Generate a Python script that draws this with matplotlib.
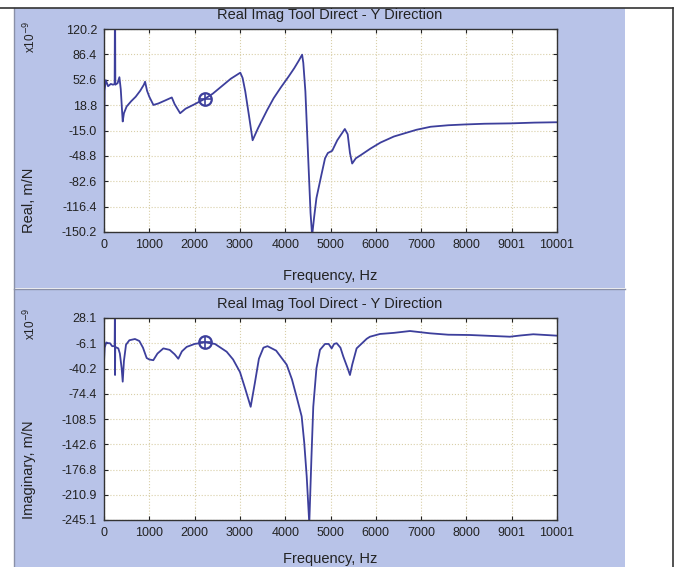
import numpy as np
import matplotlib
matplotlib.use('Agg')
import matplotlib.pyplot as plt
from matplotlib.patches import Rectangle
from matplotlib.lines import Line2D

plt.rcParams['font.family'] = ['Liberation Sans', 'DejaVu Sans']

# Real part (x1e-9 m/N) vs frequency (Hz)
real_freq = [0, 12, 40, 90, 150, 200, 235, 240, 246, 250, 300, 340, 370, 413, 440, 500,
             600, 700, 800, 880, 907, 950, 1000, 1091, 1200, 1350, 1497, 1560, 1681, 1800,
             2000, 2220, 2400, 2600, 2800, 3009, 3060, 3119, 3200, 3281, 3400, 3600, 3745,
             3900, 4077, 4200, 4300, 4374, 4400, 4446, 4500, 4560, 4595, 4640, 4690, 4800,
             4880, 4942, 5038, 5150, 5317, 5380, 5430, 5479, 5560, 5664, 5885, 6106, 6400,
             6622, 6900, 7212, 7600, 7949, 8400, 8982, 9500, 10001]
real_vals = [-170, 38, 52, 44, 47, 46, 47, 130, 130, 46, 48, 56, 40, -3, 8, 17,
             24, 30, 38, 46, 50, 38, 30, 19, 21, 25, 29, 20, 8, 14,
             20, 27, 34, 44, 54, 62, 55, 37, 5, -28, -12, 12, 28,
             42, 57, 68, 78, 86, 75, 37, -40, -125, -155, -130, -105, -74,
             -52, -45, -42, -28, -13, -20, -45, -59, -52, -48, -39, -31, -23,
             -19, -14, -10, -8, -7, -6, -5.5, -4.5, -4]

# Imaginary part (x1e-9 m/N) vs frequency (Hz)
imag_freq = [0, 15, 50, 100, 132, 180, 235, 240, 244, 248, 316, 350, 390, 413, 440, 486,
             560, 684, 780, 860, 942, 1000, 1088, 1180, 1310, 1450, 1560, 1640, 1720, 1825,
             2000, 2230, 2450, 2708, 2850, 3002, 3120, 3238, 3330, 3420, 3520, 3610, 3800,
             4033, 4150, 4250, 4364, 4420, 4475, 4532, 4580, 4620, 4690, 4768, 4879, 4960,
             5026, 5080, 5137, 5220, 5283, 5380, 5430, 5480, 5577, 5800, 5872, 6093, 6400,
             6755, 7197, 7600, 8080, 8500, 8962, 9200, 9477, 10001]
imag_vals = [-30, -12, -5, -6, -6, -10, -10, 30, -49, -11, -13, -20, -40, -58, -30, -8,
             -2, -0.3, -3, -12, -26, -28, -29, -20, -13, -15, -21, -27, -17, -11,
             -7, -4.8, -7, -17.5, -28, -45, -68, -92, -60, -27, -12, -10, -16,
             -35, -55, -78, -105, -140, -186, -250, -160, -92, -40, -15, -7, -7,
             -13, -7, -6, -12, -24, -40, -49, -35, -13, 0, 2.8, 6.5, 8,
             10.5, 7.4, 5.5, 5.1, 4, 2.8, 4.5, 6.1, 4.2]

marker_real = (2220, 27)
marker_imag = (2230, -4.8)

xtick_labels = ['0', '1000', '2000', '3000', '4000', '5000', '6000', '7000', '8000', '9001', '10001']
real_yticks = ['120.2', '86.4', '52.6', '18.8', '-15.0', '-48.8', '-82.6', '-116.4', '-150.2']
imag_yticks = ['28.1', '-6.1', '-40.2', '-74.4', '-108.5', '-142.6', '-176.8', '-210.9', '-245.1']

W, H = 680, 567
line_col = '#3d3f9c'
panel_col = '#b8c3e8'

fig = plt.figure(figsize=(W / 100, H / 100), dpi=100)
fig.patch.set_facecolor('white')


def fx(px):
    return px / W


def fy(py):
    return 1 - py / H


# panel backgrounds and frame lines
fig.add_artist(Rectangle((fx(14), fy(288)), fx(611), 280 / H, facecolor=panel_col,
                         edgecolor='none', transform=fig.transFigure, zorder=0))
fig.add_artist(Rectangle((fx(14), 0), fx(611), 278 / H, facecolor=panel_col,
                         edgecolor='none', transform=fig.transFigure, zorder=0))
fig.add_artist(Line2D([fx(14), fx(625)], [fy(288.5), fy(288.5)], color='#8a90a8', lw=1,
                      transform=fig.transFigure))
fig.add_artist(Line2D([fx(14), fx(14)], [0, fy(8)], color='#8a90a8', lw=1,
                      transform=fig.transFigure))
fig.add_artist(Line2D([0, fx(673)], [fy(7.5), fy(7.5)], color='#333333', lw=1.2,
                      transform=fig.transFigure))
fig.add_artist(Line2D([fx(673), fx(673)], [0, fy(7.5)], color='#333333', lw=1.2,
                      transform=fig.transFigure))

panels = [
    (29, 232, real_freq, real_vals, real_yticks, marker_real, 'Real, m/N', 200, 37),
    (318, 520, imag_freq, imag_vals, imag_yticks, marker_imag, 'Imaginary, m/N', 470, 324),
]

for i, (top, bot, f, v, ylabs, mk, ylab, ylab_y, exp_y) in enumerate(panels):
    ax = fig.add_axes([fx(104), fy(bot), fx(557 - 104), (bot - top) / H])
    ax.set_facecolor('white')
    ax.plot(f, v, color=line_col, lw=1.3)
    ax.plot(mk[0], mk[1], marker='o', ms=9, mfc='none', mec=line_col, mew=1.6)
    ax.plot(mk[0], mk[1], marker='+', ms=8, color=line_col, mew=1.2)
    yt = [float(s) for s in ylabs]
    ax.set_xlim(0, 10001)
    ax.set_ylim(yt[-1], yt[0])
    ax.set_xticks(np.linspace(0, 10001, 11))
    ax.set_xticklabels(xtick_labels)
    ax.set_yticks(yt)
    ax.set_yticklabels(ylabs)
    ax.tick_params(direction='in', length=3, width=0.8, top=True, right=True,
                   labelsize=9, pad=5, colors='#222222')
    ax.grid(True, color='#d9cfa8', linestyle=':', lw=0.8)
    for s in ax.spines.values():
        s.set_color('#333333')
        s.set_linewidth(1)
    fig.text(fx(330), fy(top - 14), 'Real Imag Tool Direct - Y Direction', ha='center',
             va='center', fontsize=10.5, color='#222222')
    if i == 0:
        fig.text(fx(330), fy(bot + 44), 'Frequency, Hz', ha='center', va='center',
                 fontsize=10.5, color='#222222')
    else:
        fig.text(fx(330), fy(566), 'Frequency, Hz', ha='center', va='bottom',
                 fontsize=10.5, color='#222222')
    fig.text(fx(29), fy(ylab_y), ylab, rotation=90, ha='center', va='center',
             fontsize=10.5, color='#222222')
    fig.text(fx(30), fy(exp_y), r'x10$^{-9}$', rotation=90, ha='center', va='center',
             fontsize=8.5, color='#222222')

fig.savefig('out.png', dpi=100)
